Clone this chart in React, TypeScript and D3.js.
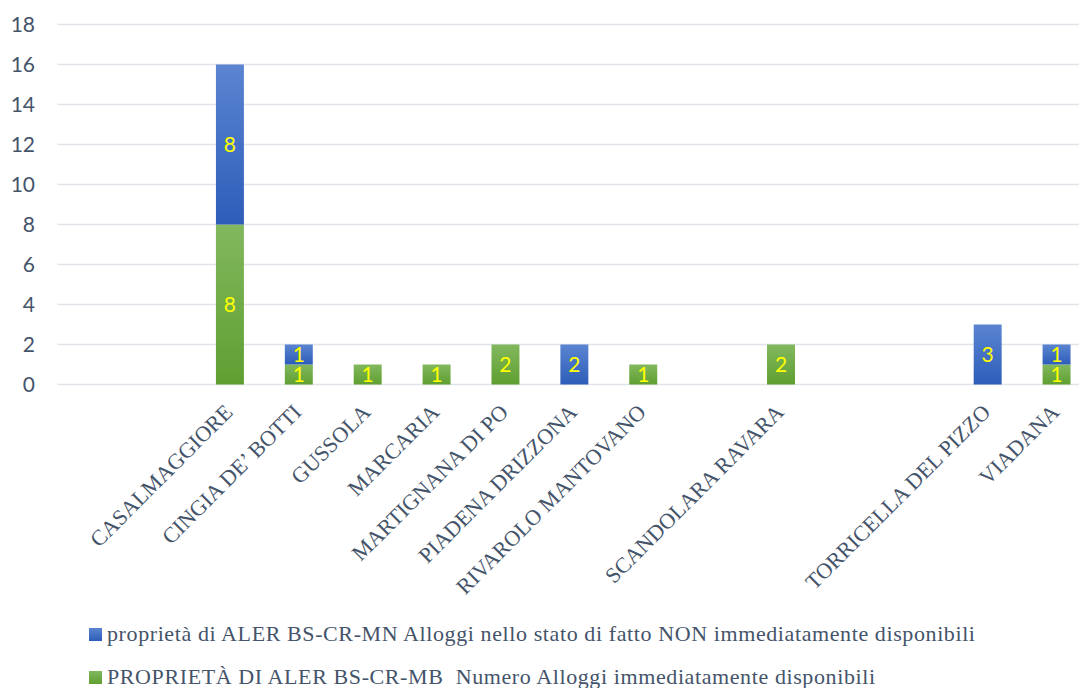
import React from "react";
import * as d3 from "d3";

const categories = [
  "",
  "",
  "CASALMAGGIORE",
  "CINGIA DE’ BOTTI",
  "GUSSOLA",
  "MARCARIA",
  "MARTIGNANA DI PO",
  "PIADENA DRIZZONA",
  "RIVAROLO MANTOVANO",
  "",
  "SCANDOLARA RAVARA",
  "",
  "",
  "TORRICELLA DEL PIZZO",
  "VIADANA",
];
// PROPRIETÀ DI ALER BS-CR-MB Numero Alloggi immediatamente disponibili (green, bottom)
const availableValues = [0, 0, 8, 1, 1, 1, 2, 0, 1, 0, 2, 0, 0, 0, 1];
// proprietà di ALER ... NON immediatamente disponibili (blue, top)
const notAvailableValues = [0, 0, 8, 1, 0, 0, 0, 2, 0, 0, 0, 0, 0, 3, 1];
const yTicks = [0, 2, 4, 6, 8, 10, 12, 14, 16, 18];
const legendLabels = [
  "proprietà di ALER BS-CR-MN Alloggi nello stato di fatto NON immediatamente disponibili",
  "PROPRIETÀ DI ALER BS-CR-MB  Numero Alloggi immediatamente disponibili",
];

const W = 1079;
const H = 688;
const left = 57.7;
const right = 1091;
const top = 24.5;
const bottom = 384.5;

export default function App() {
  const idx = categories.map((_, i) => String(i));
  const x = d3
    .scaleBand<string>()
    .domain(idx)
    .range([left, right])
    .paddingInner(0.594)
    .paddingOuter(0.297);
  const y = d3.scaleLinear().domain([0, 18]).range([bottom, top]);

  const stackData = categories.map((c, i) => ({
    key: String(i),
    green: availableValues[i],
    blue: notAvailableValues[i],
  }));
  const stack = d3.stack<any>().keys(["green", "blue"]);
  const series = stack(stackData);
  const gradId: Record<string, string> = { green: "gGreen", blue: "gBlue" };

  const labelFont = "'Liberation Serif', 'Times New Roman', serif";
  const numFont = "Lato, 'Open Sans', sans-serif";
  const textColor = "#44546a";

  return (
    <svg
      width={W}
      height={H}
      style={{ position: "absolute", left: 0, top: 0, background: "#fff" }}
    >
      <defs>
        <linearGradient id="gBlue" x1="0" y1="0" x2="0" y2="1">
          <stop offset="0%" stopColor="#5b85d1" />
          <stop offset="100%" stopColor="#2d5db9" />
        </linearGradient>
        <linearGradient id="gGreen" x1="0" y1="0" x2="0" y2="1">
          <stop offset="0%" stopColor="#82b85e" />
          <stop offset="100%" stopColor="#5f9f31" />
        </linearGradient>
      </defs>
      {/* gridlines */}
      {yTicks.map((t) => (
        <line
          key={"g" + t}
          x1={left}
          x2={W}
          y1={y(t)}
          y2={y(t)}
          stroke="#e1e4e9"
          strokeWidth={1.6}
        />
      ))}
      {/* y labels */}
      {yTicks.map((t) => (
        <text
          key={"yl" + t}
          x={35}
          y={y(t)}
          dy="0.36em"
          textAnchor="end"
          fontFamily={numFont}
          fontSize={21}
          fill={textColor}
        >
          {t}
        </text>
      ))}
      {/* bars */}
      {series.map((s) =>
        s.map((d, i) => {
          const v = d[1] - d[0];
          if (v <= 0) return null;
          const bx = x(String(i))!;
          return (
            <g key={s.key + i}>
              <rect
                x={bx}
                width={x.bandwidth()}
                y={y(d[1])}
                height={y(d[0]) - y(d[1])}
                fill={`url(#${gradId[s.key]})`}
              />
              <text
                x={bx + x.bandwidth() / 2}
                y={(y(d[0]) + y(d[1])) / 2}
                dy="0.36em"
                textAnchor="middle"
                fontFamily={numFont}
                fontSize={21}
                fill="#ffff00"
              >
                {v}
              </text>
            </g>
          );
        })
      )}
      {/* x labels */}
      {categories.map((c, i) => {
        if (!c) return null;
        const cx = x(String(i))! + x.bandwidth() / 2 + 4;
        const cy = bottom + 29;
        return (
          <text
            key={"xl" + i}
            transform={`translate(${cx},${cy}) rotate(-45)`}
            textAnchor="end"
            fontFamily={labelFont}
            fontSize={22}
            fill={textColor}
          >
            {c}
          </text>
        );
      })}
      {/* legend */}
      {legendLabels.map((l, i) => {
        const ly = 641 + i * 43;
        return (
          <g key={"lg" + i}>
            <rect
              x={89}
              y={ly - 13}
              width={13}
              height={13}
              fill={i === 0 ? "url(#gBlue)" : "url(#gGreen)"}
            />
            <text
              x={107}
              y={ly}
              fontFamily={labelFont}
              fontSize={22}
              letterSpacing={0.6}
              fill={textColor}
              style={{ whiteSpace: "pre" }}
            >
              {l}
            </text>
          </g>
        );
      })}
    </svg>
  );
}
